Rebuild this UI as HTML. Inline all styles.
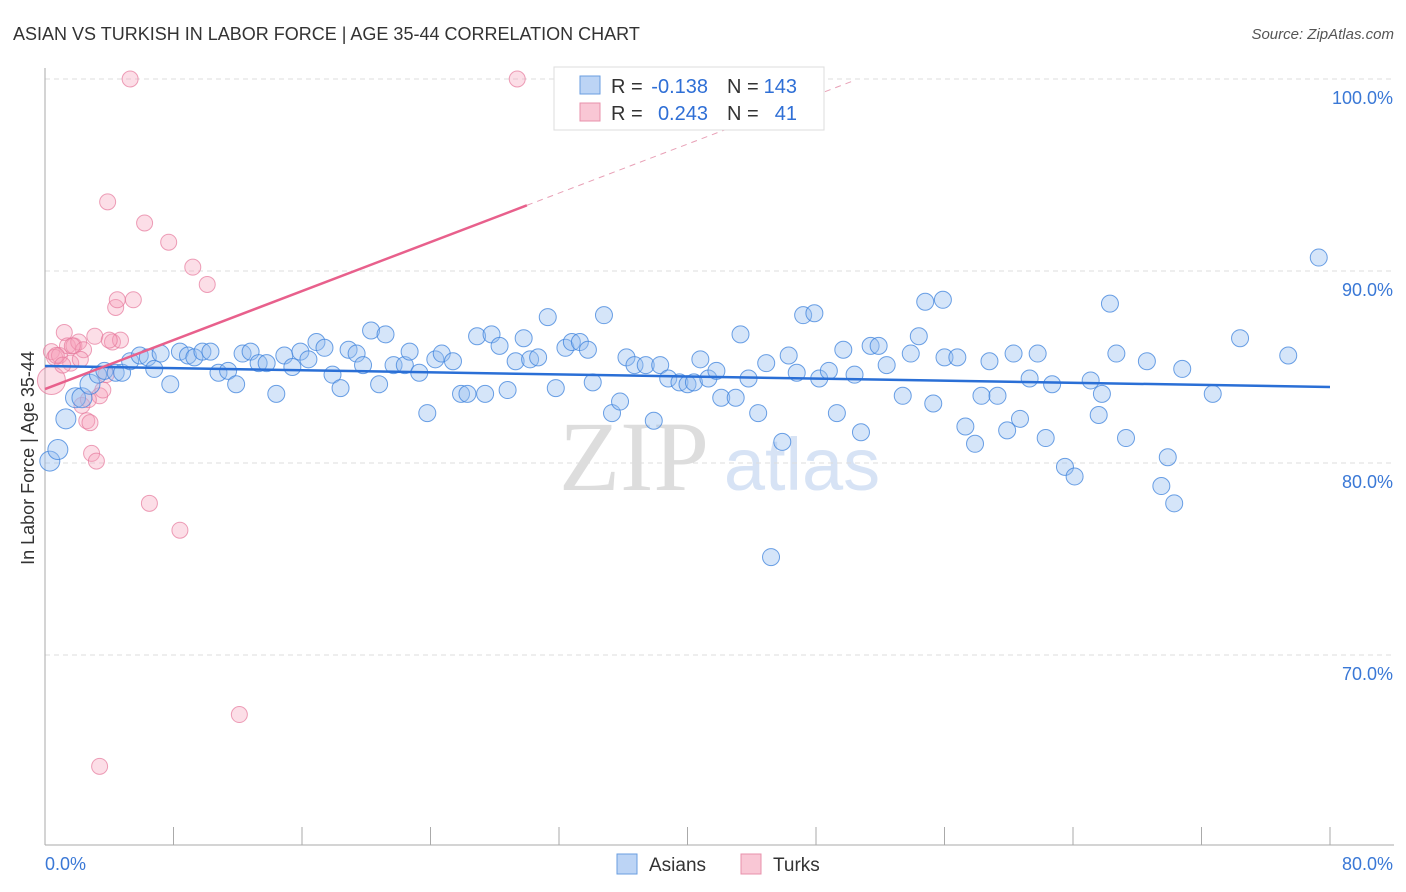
<!DOCTYPE html>
<html><head><meta charset="utf-8"><style>
body{margin:0;background:#fff;font-family:"Liberation Sans",sans-serif;}
svg{display:block}
</style></head><body>
<svg id="chart" width="1406" height="892">
<text x="13" y="40" font-size="18" fill="#333">ASIAN VS TURKISH IN LABOR FORCE | AGE 35-44 CORRELATION CHART</text>
<text x="1394" y="39" font-size="15" fill="#555" font-style="italic" text-anchor="end">Source: ZipAtlas.com</text>
<text x="34" y="458" font-size="18" fill="#333" text-anchor="middle" transform="rotate(-90 34 458)">In Labor Force | Age 35-44</text>
<g><text x="634" y="490" font-size="100" fill="#ddd" font-family="Liberation Serif,serif" text-anchor="middle">ZIP</text><text x="802" y="490" font-size="74" fill="#d7e3f5" text-anchor="middle">atlas</text></g>
<g id="grid"></g><g id="axes"></g><g id="pts"></g><g id="lines"></g>
<g>
<rect x="554" y="67" width="270" height="63" fill="#fff" stroke="#ddd"/>
<rect x="580" y="76" width="20" height="18" fill="#bcd4f5" stroke="#6a9ee0"/>
<rect x="580" y="103" width="20" height="18" fill="#f9c7d5" stroke="#e890ab"/>
<text x="611" y="93" font-size="20" fill="#333">R =</text>
<text x="708" y="93" font-size="20" fill="#2f6fd6" text-anchor="end">-0.138</text>
<text x="727" y="93" font-size="20" fill="#333">N =</text>
<text x="797" y="93" font-size="20" fill="#2f6fd6" text-anchor="end">143</text>
<text x="611" y="120" font-size="20" fill="#333">R =</text>
<text x="708" y="120" font-size="20" fill="#2f6fd6" text-anchor="end">0.243</text>
<text x="727" y="120" font-size="20" fill="#333">N =</text>
<text x="797" y="120" font-size="20" fill="#2f6fd6" text-anchor="end">41</text>
</g>
<g>
<rect x="617" y="854" width="20" height="20" fill="#bcd4f5" stroke="#6a9ee0"/>
<text x="649" y="871" font-size="19" fill="#333">Asians</text>
<rect x="741" y="854" width="20" height="20" fill="#f9c7d5" stroke="#e890ab"/>
<text x="773" y="871" font-size="19" fill="#333">Turks</text>
</g>
</svg>
<script>
const blueX=[0.3,0.8,1.3,1.9,2.3,2.8,3.3,3.7,4.4,4.8,5.3,5.9,6.4,6.8,7.2,7.8,8.4,8.9,9.3,9.8,10.3,10.8,11.4,11.9,12.3,12.8,13.3,13.8,14.4,14.9,15.4,15.9,16.4,16.9,17.4,17.9,18.4,18.9,19.4,19.8,20.3,20.8,21.2,21.7,22.4,22.7,23.3,23.8,24.3,24.7,25.4,25.9,26.3,26.9,27.4,27.8,28.3,28.8,29.3,29.8,30.2,30.7,31.3,31.8,32.4,32.8,33.3,33.8,34.1,34.8,35.3,35.8,36.2,36.7,37.4,37.9,38.3,38.8,39.5,40.0,40.4,40.8,41.3,41.8,42.1,43.0,43.3,43.8,44.4,44.9,45.9,46.3,46.8,47.2,47.9,48.2,48.8,49.3,49.7,50.4,50.8,51.4,51.9,52.4,53.4,53.9,54.4,54.8,55.3,55.9,56.0,56.8,57.3,57.9,58.3,58.8,59.3,59.9,60.3,60.7,61.3,61.8,62.3,62.7,63.5,64.1,65.1,65.6,65.8,66.3,66.7,67.3,68.6,69.5,69.9,70.3,70.8,72.7,74.4,77.4,79.3,45.2];
const blueY=[80.1,80.7,82.3,83.4,83.4,84.1,84.6,84.8,84.7,84.7,85.3,85.6,85.5,84.9,85.7,84.1,85.8,85.6,85.5,85.8,85.8,84.7,84.8,84.1,85.7,85.8,85.2,85.2,83.6,85.6,85.0,85.8,85.4,86.3,86.0,84.6,83.9,85.9,85.7,85.1,86.9,84.1,86.7,85.1,85.1,85.8,84.7,82.6,85.4,85.7,85.3,83.6,83.6,86.6,83.6,86.7,86.1,83.8,85.3,86.5,85.4,85.5,87.6,83.9,86.0,86.3,86.3,85.9,84.2,87.7,82.6,83.2,85.5,85.1,85.1,82.2,85.1,84.4,84.2,84.1,84.2,85.4,84.4,84.8,83.4,83.4,86.7,84.4,82.6,85.2,81.1,85.6,84.7,87.7,87.8,84.4,84.8,82.6,85.9,84.6,81.6,86.1,86.1,85.1,83.5,85.7,86.6,88.4,83.1,88.5,85.5,85.5,81.9,81.0,83.5,85.3,83.5,81.7,85.7,82.3,84.4,85.7,81.3,84.1,79.8,79.3,84.3,82.5,83.6,88.3,85.7,81.3,85.3,78.8,80.3,77.9,84.9,83.6,86.5,85.6,90.7,75.1];
const pinkX=[0.4,0.4,0.6,0.9,1.2,1.4,1.6,1.8,2.1,2.3,2.4,2.6,2.8,2.9,3.1,3.2,3.4,3.6,3.8,3.9,4.2,4.4,4.5,4.7,5.3,5.5,6.2,6.5,7.7,8.4,9.2,10.1,12.1,3.4,29.4,0.7,1.1,1.7,2.2,4.0,2.7];
const pinkY=[84.3,85.8,85.5,85.6,86.8,86.1,85.2,86.1,86.3,83.0,85.9,82.2,82.1,80.5,86.6,80.1,83.5,83.8,84.6,93.6,86.3,88.1,88.5,86.4,100,88.5,92.5,77.9,91.5,76.5,90.2,89.3,66.9,64.2,100,85.6,85.1,86.1,85.4,86.4,83.3];
const yTicks=[70,80,90,100];
const xTickLabels=["0.0%","80.0%"];
const blueFit=[85.05,83.96];
const pinkFit=[83.85,0.319];
const NS="http://www.w3.org/2000/svg";
const sx=v=>45+v*1285/80, sy=v=>79+(100-v)*19.2;
function mk(tag,attrs,parent){const e=document.createElementNS(NS,tag);for(const k in attrs)e.setAttribute(k,attrs[k]);parent.appendChild(e);return e;}
const grid=document.getElementById('grid'),axes=document.getElementById('axes'),pts=document.getElementById('pts'),lines=document.getElementById('lines');
yTicks.forEach(t=>{
 const l=mk('line',{x1:45,x2:1394,y1:sy(t),y2:sy(t),stroke:'#ddd','stroke-dasharray':'5,4'},grid);
 
 
 const tx=mk('text',{x:1393,y:sy(t)+25,'font-size':18,fill:'#3a78d6','text-anchor':'end'},axes);
 tx.textContent=t.toFixed(1)+'%';
 
 
});
const ax=mk('line',{x1:45,x2:45,y1:68,y2:845,stroke:'#aaa'},axes);


const bx=mk('line',{x1:45,x2:1394,y1:845,y2:845,stroke:'#aaa'},axes);


for(let i=0;i<=10;i++){const x=45+i*128.5;const t=mk('line',{x1:x,x2:x,y1:827,y2:845,stroke:'#aaa'},axes);
 
 }
const l0=mk('text',{x:45,y:870,'font-size':18,fill:'#3a78d6'},axes);l0.textContent=xTickLabels[0];


const l1=mk('text',{x:1393,y:870,'font-size':18,fill:'#3a78d6','text-anchor':'end'},axes);l1.textContent=xTickLabels[1];


pinkX.forEach((v,i)=>{const c=mk('circle',{cx:sx(v),cy:sy(pinkY[i]),r:i==0?14:8,fill:'rgba(245,160,185,0.35)',stroke:'rgba(230,120,155,0.7)','stroke-width':1},pts);
 
 });
blueX.forEach((v,i)=>{const c=mk('circle',{cx:sx(v),cy:sy(blueY[i]),r:v<3?10:8.5,fill:'rgba(150,190,240,0.4)',stroke:'rgba(60,130,220,0.75)','stroke-width':1},pts);
 
 });
const bl=mk('line',{x1:sx(0),y1:sy(blueFit[0]),x2:sx(80),y2:sy(blueFit[1]),stroke:'#2a6fd6','stroke-width':2.5},lines);


const pf=x=>pinkFit[0]+pinkFit[1]*x;
const pl=mk('line',{x1:sx(0),y1:sy(pf(0)),x2:sx(30),y2:sy(pf(30)),stroke:'#e8608c','stroke-width':2.5},lines);


const pd=mk('line',{x1:sx(30),y1:sy(pf(30)),x2:sx(50.4),y2:sy(pf(50.4)),stroke:'#e8a0b6','stroke-width':1,'stroke-dasharray':'6,5'},lines);


</script>
</body></html>
